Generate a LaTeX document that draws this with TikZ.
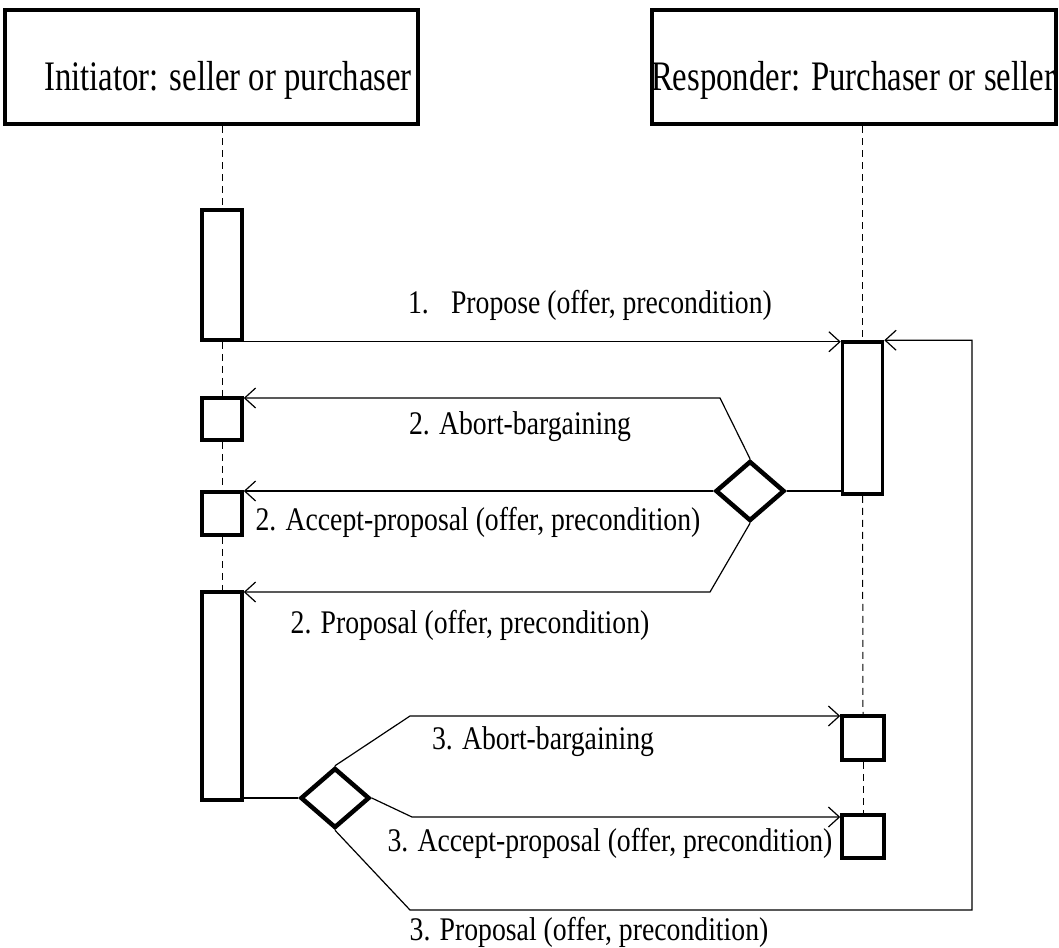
\documentclass[tikz,border=0pt]{standalone}
\usepackage{graphicx}
\usepackage{fontspec}
\setmainfont{Liberation Serif}
\usetikzlibrary{shapes.geometric,arrows.meta}

% texte resserre comme dans la figure
\newcommand{\hdrtxt}[1]{\scalebox{0.78}[1]{#1}}
\newcommand{\msgtxt}[1]{\scalebox{0.84}[1]{#1}}

\begin{document}
\begin{tikzpicture}[x=1pt,y=-1pt,
		entete/.style={draw, line width=4.5pt, inner sep=0pt},
		activ/.style={draw, line width=3.5pt, fill=white, minimum width=40pt, inner sep=0pt},
		choix/.style={draw, diamond, line width=4.5pt, fill=white, minimum width=69pt, minimum height=60pt, inner sep=0pt},
		msg/.style={line width=1.2pt, -{Straight Barb[length=11pt,width=20pt]}},
		vie/.style={line width=1pt, dash pattern=on 7pt off 5pt},
		hdr/.style={font=\fontsize{42}{46}\selectfont, inner sep=0pt},
		lbl/.style={font=\fontsize{33}{36}\selectfont, inner sep=0pt}]
		\useasboundingbox (0,0) rectangle (1059,947);
		
		% Entetes
		\node[entete, minimum width=413pt, minimum height=114pt] (ini) at (211.5,67) {};
		\node[hdr] (initxt) at (228,80) {\hdrtxt{Initiator: seller or purchaser}};
		\node[entete, minimum width=404pt, minimum height=114pt] (resp) at (854,67) {};
		\node[hdr] (resptxt) at (853,80) {\hdrtxt{Responder: Purchaser or seller}};
		
		% Barres d'activation - initiateur
		\node[activ, minimum height=130pt] (bar1) at (222,275) {};
		\node[activ, minimum height=42pt] (la) at (222,419) {};
		\node[activ, minimum height=43pt] (lb) at (222,513.5) {};
		\node[activ, minimum height=208pt] (bar2) at (222,696) {};
		
		% Barres d'activation - repondeur
		\node[activ, minimum height=152pt] (rbar) at (862.5,418) {};
		\node[activ, minimum width=42pt, minimum height=44pt] (ra) at (863,738) {};
		\node[activ, minimum width=42pt, minimum height=43pt] (rb) at (863,836.5) {};
		
		% Lignes de vie
		\draw[vie] (ini.south -| bar1) -- (bar1.north);
		\draw[vie] (bar1.south) -- (la.north);
		\draw[vie] (la.south) -- (lb.north);
		\draw[vie] (lb.south) -- (bar2.north);
		\draw[vie] (resp.south -| rbar) -- (rbar.north);
		\draw[vie] (rbar.south) -- (ra.north);
		\draw[vie] (ra.south) -- (rb.north);
		
		% Decisions
		\node[choix] (d1) at (750,491) {};
		\node[choix] (d2) at (335,798) {};
		
		% 1. Propose
		\draw[msg] (bar1.south east) -- (bar1.south east -| rbar.west);
		\node[lbl] (m1) at (590,305) {\msgtxt{1.\hspace{0.8em}Propose (offer, precondition)}};
		
		% Reponses du repondeur
		\draw[line width=1.2pt] (rbar.south west |- d1) -- (d1.east);
		\coordinate (k1) at (720,398);
		\coordinate (k2) at (710,592);
		\draw[msg] (d1.north) -- (k1) -- (k1 -| la.east);
		\draw[msg] (d1.west) -- (d1.west -| lb.east);
		\draw[msg] (d1.south) -- (k2) -- (k2 -| bar2.east);
		\node[lbl] (m2a) at (520,427) {\msgtxt{2. Abort-bargaining}};
		\node[lbl] (m2b) at (478,522) {\msgtxt{2. Accept-proposal (offer, precondition)}};
		\node[lbl] (m2c) at (470,625) {\msgtxt{2. Proposal (offer, precondition)}};
		
		% Reponses de l'initiateur
		\draw[line width=1.2pt] (bar2.south east |- d2) -- (d2.west);
		\coordinate (k3) at (410,716);
		\coordinate (k4) at (412,817);
		\coordinate (k5) at (410,910);
		\coordinate (k6) at (972,910);
		\draw[msg] (d2.north) -- (k3) -- (k3 -| ra.west);
		\draw[msg] (d2.east) -- (k4) -- (k4 -| rb.west);
		\draw[msg] (d2.south) -- (k5) -- (k6) -- (k6 |- rbar.north) -- (rbar.north east);
		\node[lbl] (m3a) at (543,742) {\msgtxt{3. Abort-bargaining}};
		\node[lbl] (m3b) at (610,843) {\msgtxt{3. Accept-proposal (offer, precondition)}};
		\node[lbl] (m3c) at (589,932) {\msgtxt{3. Proposal (offer, precondition)}};
	\end{tikzpicture}
\end{document}
